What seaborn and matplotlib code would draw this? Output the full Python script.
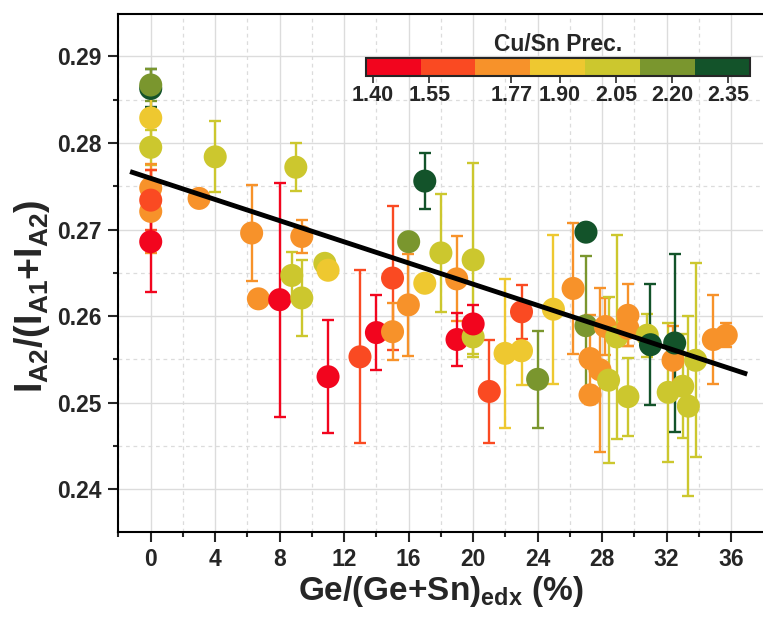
import matplotlib
matplotlib.use("Agg")
import matplotlib.pyplot as plt
import matplotlib.colors as mcolors
import matplotlib.cm as cm
from matplotlib.ticker import MultipleLocator
import pandas as pd
import seaborn as sns

# Ge content (%), peak ratio, error and Cu/Sn precursor ratio of each sample
ge = [0, 0, 0, 0, 0, 0, 0, 0,
      3.0, 4.0, 6.26, 6.68, 8.0, 8.75, 9.37, 9.0, 9.37, 10.8, 11.0, 11.0,
      12.98, 14.0, 15.0, 15.0, 15.98, 16.0, 17.0, 17.0, 18.0, 18.98, 19.0,
      20.0, 20.0, 20.0, 21.0, 21.98, 23.0, 23.0, 24.0, 24.98,
      26.2, 27.0, 27.0, 27.25, 27.25, 27.87, 28.2, 28.4, 28.9, 29.6, 29.6, 29.6,
      30.8, 31.0, 32.1, 32.4, 32.5, 33.0, 33.35, 33.8, 34.9, 35.7]
ratio = [0.2863, 0.2867, 0.2829, 0.2795, 0.2748, 0.2721, 0.2734, 0.2686,
         0.2736, 0.2784, 0.2696, 0.2620, 0.2619, 0.2647, 0.2621, 0.2772, 0.2692, 0.2661, 0.2653, 0.2530,
         0.2553, 0.2581, 0.2644, 0.2582, 0.2613, 0.2686, 0.2756, 0.2638, 0.2673, 0.2643, 0.2573,
         0.2665, 0.2576, 0.2591, 0.2513, 0.2557, 0.2560, 0.2605, 0.2527, 0.2608,
         0.2632, 0.2697, 0.2589, 0.2551, 0.2509, 0.2538, 0.2588, 0.2526, 0.2576, 0.2507, 0.2601, 0.2586,
         0.2578, 0.2567, 0.2512, 0.2549, 0.2569, 0.2519, 0.2496, 0.2549, 0.2573, 0.2578]
err = [0.0022, 0.0018, 0.0030, 0.0020, 0.0028, 0.0048, 0.0035, 0.0058,
       0.0008, 0.0041, 0.0055, 0.0008, 0.0135, 0.0027, 0.0044, 0.0028, 0.0019, 0.0008, 0.0008, 0.0065,
       0.0100, 0.0043, 0.0083, 0.0033, 0.0059, 0.0006, 0.0032, 0.0005, 0.0068, 0.0049, 0.0031,
       0.0112, 0.0020, 0.0022, 0.0060, 0.0086, 0.0040, 0.0031, 0.0056, 0.0086,
       0.0076, 0.0008, 0.0080, 0.0050, 0.0010, 0.0095, 0.0033, 0.0096, 0.0118, 0.0045, 0.0036, 0.0020,
       0.0025, 0.0070, 0.0080, 0.0040, 0.0103, 0.0060, 0.0104, 0.0112, 0.0051, 0.0014]
cusn = [2.35, 2.20, 1.90, 2.05, 1.77, 1.77, 1.55, 1.40,
        1.77, 2.05, 1.77, 1.77, 1.40, 2.05, 2.05, 2.05, 1.77, 2.05, 1.90, 1.40,
        1.55, 1.40, 1.55, 1.77, 1.77, 2.20, 2.35, 1.90, 2.05, 1.77, 1.40,
        2.05, 2.05, 1.40, 1.55, 1.90, 1.90, 1.55, 2.20, 1.90,
        1.77, 2.35, 2.20, 1.77, 1.77, 1.77, 1.77, 2.05, 2.05, 2.05, 1.77, 1.77,
        2.05, 2.35, 2.05, 1.77, 2.35, 2.05, 2.05, 2.05, 1.77, 1.77]

# linear fit drawn across the data
fit_x = [-1.28, 37.0]
fit_y = [0.2767, 0.2533]

cb_ticks = [1.40, 1.55, 1.77, 1.90, 2.05, 2.20, 2.35]
cb_colors = ["#F2051E", "#FA4A22", "#F7922A", "#EEC830", "#CCC72E", "#7A962E", "#13532A"]

df = pd.DataFrame({"ge": ge, "ratio": ratio, "err": err, "cusn": cusn})

sns.set_style("ticks")
plt.rcParams["font.family"] = ["Liberation Sans", "DejaVu Sans"]
plt.rcParams["font.weight"] = "bold"
plt.rcParams["mathtext.fontset"] = "custom"
plt.rcParams["mathtext.rm"] = "Liberation Sans:bold"
plt.rcParams["mathtext.bf"] = "Liberation Sans:bold"
plt.rcParams["mathtext.it"] = "Liberation Sans:bold"

cmap = mcolors.ListedColormap(cb_colors)
norm = mcolors.Normalize(vmin=1.38, vmax=2.408)

fig = plt.figure(figsize=(7.63, 6.21), dpi=100)
ax = fig.add_axes([118 / 763, 1 - 531.7 / 621, (763 - 118) / 763, (531.7 - 14) / 621])

for _, r in df.iterrows():
    ax.errorbar(r["ge"], r["ratio"], yerr=r["err"], fmt="none", ecolor=cmap(norm(r["cusn"])),
                elinewidth=1.7, capsize=4.5, capthick=1.7, zorder=2)

sns.scatterplot(data=df, x="ge", y="ratio", hue="cusn", palette=cmap, hue_norm=norm,
                s=275, edgecolor="none", linewidth=0, alpha=1, legend=False, ax=ax, zorder=3)

ax.plot(fit_x, fit_y, color="black", lw=3.5, zorder=4, solid_capstyle="butt")

ax.set_xlim(-2.03, 37.98)
ax.set_ylim(0.2351, 0.2949)
ax.xaxis.set_major_locator(MultipleLocator(4))
ax.xaxis.set_minor_locator(MultipleLocator(2))
ax.yaxis.set_major_locator(MultipleLocator(0.01))
ax.yaxis.set_minor_locator(MultipleLocator(0.005))
ax.grid(which="major", color="#dcdcdc", lw=1.0, ls="-", zorder=0)
ax.grid(which="minor", color="#dcdcdc", lw=0.9, ls=(0, (3, 3)), zorder=0)
ax.set_axisbelow(True)

for side in ["left", "bottom", "top"]:
    ax.spines[side].set_linewidth(1.5)
    ax.spines[side].set_color("black")
ax.spines["right"].set_visible(False)
ax.tick_params(which="major", length=7, width=1.5, labelsize=16.5, pad=5)
ax.tick_params(which="minor", length=3.5, width=1.5)
ax.tick_params(top=False, which="both")
for lab in ax.get_xticklabels() + ax.get_yticklabels():
    lab.set_fontweight("bold")
ax.yaxis.set_major_formatter(plt.FormatStrFormatter("%.2f"))

ax.set_xlabel(r"Ge/(Ge+Sn)$_{\mathbf{edx}}$ (%)", fontsize=24, fontweight="bold", labelpad=2)
ax.set_ylabel(r"$\mathbf{I_{A2}/(I_{A1}{+}I_{A2})}$", fontsize=27)
ax.yaxis.set_label_coords(-0.102, 0.455)

cax = fig.add_axes([365.7 / 763, 1 - 75.7 / 621, 384.3 / 763, 18 / 621])
cb = fig.colorbar(cm.ScalarMappable(norm=norm, cmap=cmap), cax=cax,
                  orientation="horizontal", ticks=cb_ticks)
cb.outline.set_linewidth(1.5)
cb.ax.tick_params(length=5, width=1.2, labelsize=15.5, pad=2)
cb.ax.set_xticklabels([f"{t:.2f}" for t in cb_ticks], fontweight="bold")
cb.ax.set_title("Cu/Sn Prec.", fontsize=16.5, fontweight="bold", pad=5)

fig.savefig("out.png", dpi=100)
